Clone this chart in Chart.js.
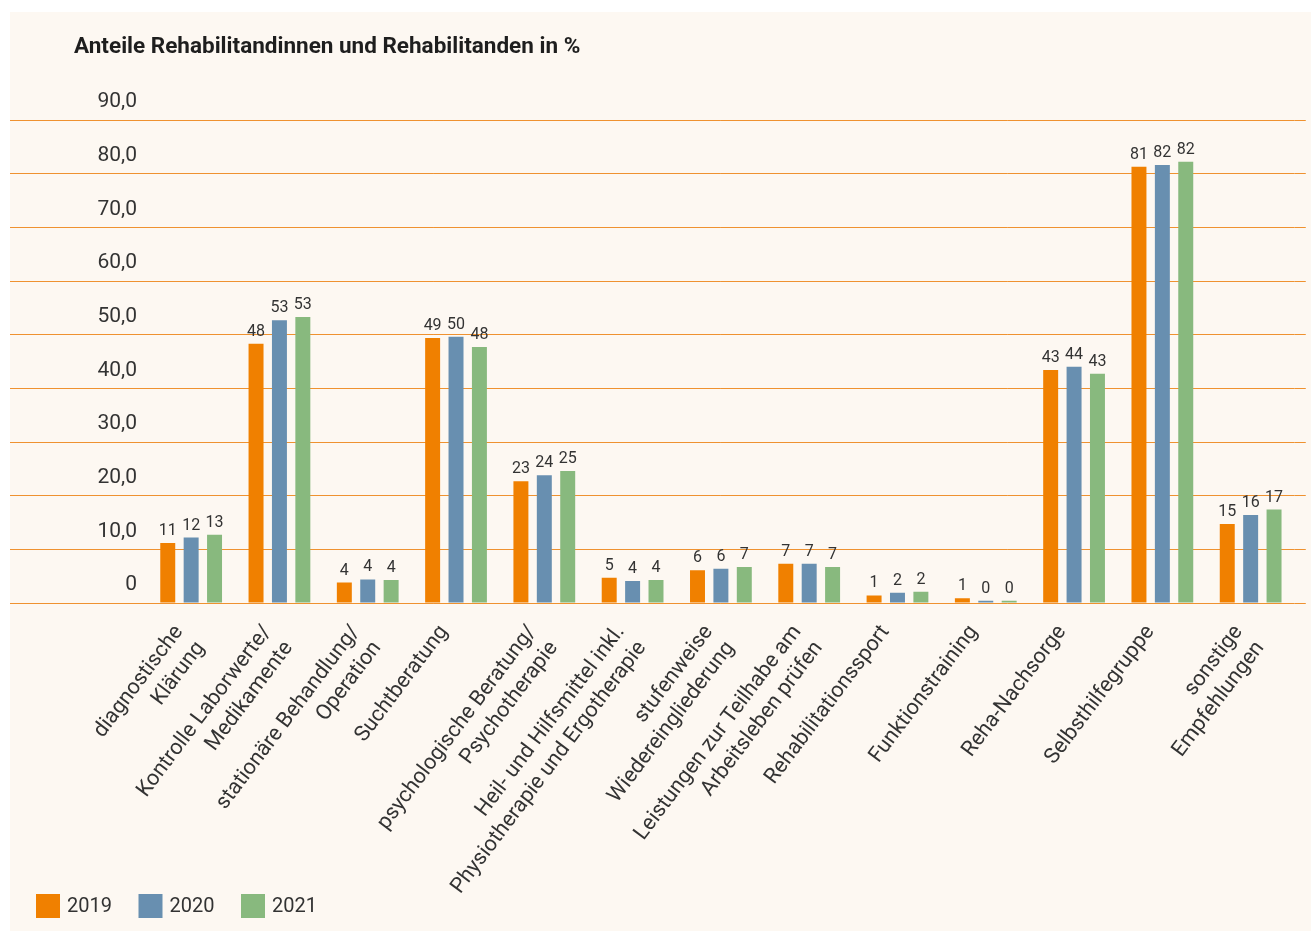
<!DOCTYPE html>
<html>
<head>
<meta charset="utf-8">
<script src="https://cdn.jsdelivr.net/npm/chart.js@4.4.1/dist/chart.umd.min.js"></script>
<style>
  html, body { margin: 0; padding: 0; background: #ffffff; }
  #panel { position: absolute; left: 10px; top: 12px; width: 1301px; height: 919px; background: #fdf8f2; }
</style>
</head>
<body>
<div id="panel"><canvas id="chart"></canvas></div>
<script>
var chartTitle = 'Anteile Rehabilitandinnen und Rehabilitanden in %';

var categories = [
  ['diagnostische', 'Klärung'],
  ['Kontrolle Laborwerte/', 'Medikamente'],
  ['stationäre Behandlung/', 'Operation'],
  ['Suchtberatung'],
  ['psychologische Beratung/', 'Psychotherapie'],
  ['Heil- und Hilfsmittel inkl.', 'Physiotherapie und Ergotherapie'],
  ['stufenweise', 'Wiedereingliederung'],
  ['Leistungen zur Teilhabe am', 'Arbeitsleben prüfen'],
  ['Rehabilitationssport'],
  ['Funktionstraining'],
  ['Reha-Nachsorge'],
  ['Selbsthilfegruppe'],
  ['sonstige', 'Empfehlungen']
];

var years = ['2019', '2020', '2021'];
var values2019 = [11.2, 48.3, 3.8, 49.4, 22.7, 4.7, 6.1, 7.3, 1.4, 0.9, 43.4, 81.3, 14.7];
var values2020 = [12.2, 52.7, 4.4, 49.6, 23.8, 4.1, 6.4, 7.3, 1.9, 0.4, 44.0, 81.6, 16.4];
var values2021 = [12.7, 53.3, 4.3, 47.7, 24.6, 4.3, 6.7, 6.7, 2.1, 0.4, 42.7, 82.2, 17.4];

var yTickLabels = ['0', '10,0', '20,0', '30,0', '40,0', '50,0', '60,0', '70,0', '80,0', '90,0'];

var colors = ['#f08000', '#688fb0', '#88b97e'];
var gridColor = '#ef9230';
var textColor = '#333333';
var fontFamily = 'Roboto, "DejaVu Sans", sans-serif';

Chart.defaults.font.family = fontFamily;
Chart.defaults.color = textColor;

// title drawn in the top left corner of the panel
var titlePlugin = {
  id: 'panelTitle',
  afterDraw: function (chart) {
    var ctx = chart.ctx;
    ctx.save();
    ctx.font = 'bold 22.5px ' + fontFamily;
    ctx.fillStyle = '#1e1e1e';
    ctx.textAlign = 'left';
    ctx.textBaseline = 'middle';
    ctx.fillText(chartTitle, 64, 35);
    ctx.restore();
  }
};

// legend in the bottom left corner (the built-in one would cut the axis labels)
var bottomLegend = {
  id: 'bottomLegend',
  afterDraw: function (chart) {
    var ctx = chart.ctx;
    ctx.save();
    ctx.font = '20px ' + fontFamily;
    ctx.textAlign = 'left';
    ctx.textBaseline = 'middle';
    chart.data.datasets.forEach(function (ds, i) {
      var x = 26 + i * 102.5;
      ctx.fillStyle = ds.backgroundColor;
      ctx.fillRect(x, 882, 24, 24);
      ctx.fillStyle = textColor;
      ctx.fillText(ds.label, x + 31, 895);
    });
    ctx.restore();
  }
};

// rounded value above every bar
var valueLabels = {
  id: 'valueLabels',
  afterDatasetsDraw: function (chart) {
    var ctx = chart.ctx;
    ctx.save();
    ctx.font = '16px ' + fontFamily;
    ctx.fillStyle = textColor;
    ctx.textAlign = 'center';
    ctx.textBaseline = 'bottom';
    chart.data.datasets.forEach(function (ds, i) {
      var meta = chart.getDatasetMeta(i);
      meta.data.forEach(function (bar, j) {
        ctx.fillText(String(Math.round(ds.data[j])), bar.x, bar.y - 4);
      });
    });
    ctx.restore();
  }
};

var ctx = document.getElementById('chart').getContext('2d');
var chart = new Chart(ctx, {
  type: 'bar',
  data: {
    labels: categories,
    datasets: [
      { label: years[0], data: values2019, backgroundColor: colors[0] },
      { label: years[1], data: values2020, backgroundColor: colors[1] },
      { label: years[2], data: values2021, backgroundColor: colors[2] }
    ]
  },
  options: {
    responsive: true,
    maintainAspectRatio: false,
    animation: false,
    datasets: {
      bar: { categoryPercentage: 0.795, barPercentage: 0.64 }
    },
    layout: { padding: { top: 108, left: 0, right: 0, bottom: 3 } },
    plugins: {
      title: { display: false },
      tooltip: { enabled: false },
      legend: { display: false }
    },
    scales: {
      x: {
        grid: { display: false, drawTicks: false },
        border: { display: false },
        ticks: {
          autoSkip: false,
          minRotation: 53,
          maxRotation: 53,
          padding: 17,
          labelOffset: -12,
          color: textColor,
          font: { size: 21.5, lineHeight: 1.25 }
        },
        afterFit: function (scale) { scale.height = 325; }
      },
      y: {
        min: 0,
        max: 90,
        border: { display: false },
        grid: { color: gridColor, lineWidth: 1, tickLength: 137 },
        ticks: {
          stepSize: 10,
          padding: -127,
          labelOffset: -18,
          color: textColor,
          font: { size: 21 },
          callback: function (v, i) { return yTickLabels[i]; }
        },
        afterFit: function (scale) { scale.width = 137; }
      },
      y2: {
        position: 'right',
        min: 0,
        max: 90,
        border: { display: false },
        grid: { color: gridColor, lineWidth: 1, drawOnChartArea: false, tickLength: 11 },
        ticks: { stepSize: 10, display: false },
        afterFit: function (scale) { scale.width = 11; }
      }
    }
  },
  plugins: [titlePlugin, bottomLegend, valueLabels]
});
</script>
</body>
</html>
